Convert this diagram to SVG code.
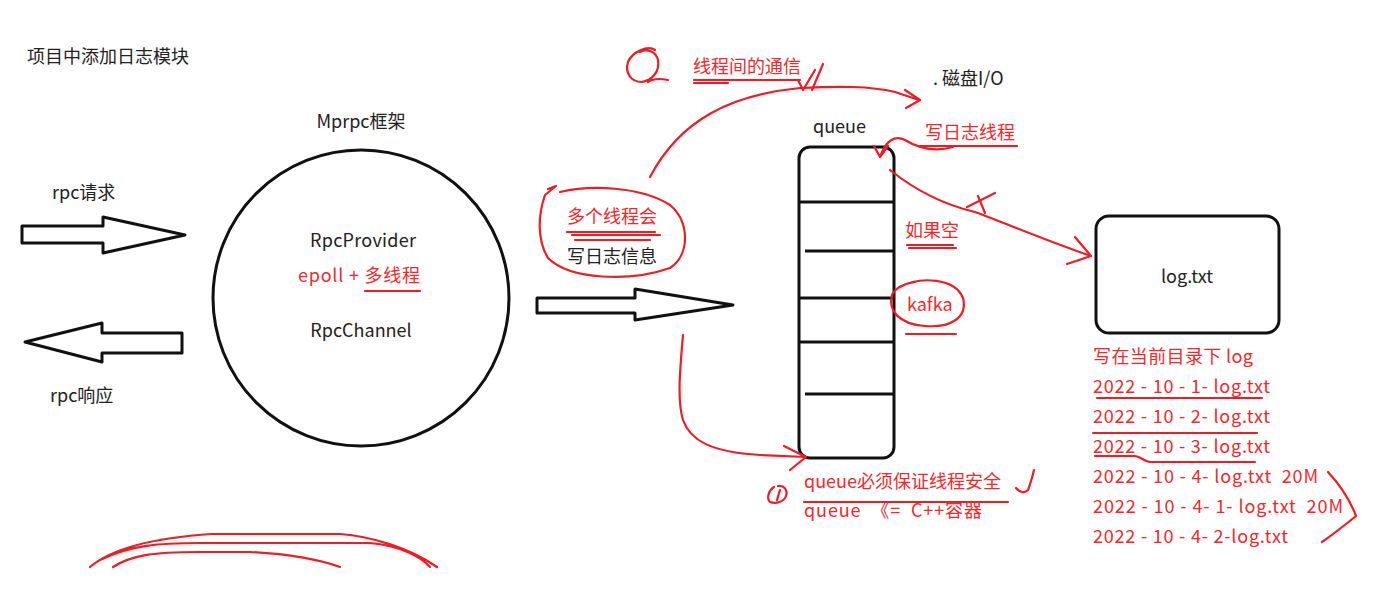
<svg xmlns="http://www.w3.org/2000/svg" width="1391" height="592" viewBox="0 0 1391 592">
<style>
text{font-family:"Noto Sans CJK SC","Noto Sans",sans-serif;font-size:18px;fill:#222;white-space:pre}
.r{fill:#ee2a2e}
.k{fill:none;stroke:#111;stroke-width:3;stroke-linejoin:round}
.h{fill:none;stroke:#ee1c24;stroke-width:2.2;stroke-linecap:round;stroke-linejoin:round}
.m{text-anchor:middle}
</style>
<rect width="1391" height="592" fill="#fff"/>

<g id="title"><text x="27" y="63">项目中添加日志模块</text></g>

<g id="rpc-request">
<path class="k" d="M22 226H103V217L185 235L103 253V243H22Z"/>
<text x="52" y="199">rpc请求</text>
</g>
<g id="rpc-response">
<path class="k" d="M182 333H102V323L25 342L102 362V353H182Z"/>
<text x="50" y="402">rpc响应</text>
</g>

<g id="mprpc">
<text x="361" y="128" class="m">Mprpc框架</text>
<circle class="k" cx="361" cy="298" r="148"/>
<text x="363" y="247" class="m" textLength="106" lengthAdjust="spacing">RpcProvider</text>
<text x="298" y="282" class="r" textLength="122" lengthAdjust="spacing">epoll + 多线程</text>
<path class="h" d="M365 291H420"/>
<text x="361" y="337" class="m">RpcChannel</text>
</g>

<g id="big-arrow"><path class="k" d="M537 298H635V289L733 305L635 320V313H537Z"/></g>

<g id="multi-thread">
<text x="567" y="223" class="r">多个线程会</text>
<path class="h" d="M567 232H655M572 235H660M575 240H650"/>
<text x="567" y="263">写日志信息</text>
<path class="h" d="M548 189L556 186L545 195C538 215 537 240 548 258C570 280 630 282 670 268C690 255 690 222 670 205C640 186 590 185 560 192"/>
</g>

<g id="queue">
<text x="813" y="133">queue</text>
<rect class="k" x="799" y="147" width="95" height="311" rx="11"/>
<path class="k" d="M799 202H894M805 251H894M799 298H894M799 342H894M805 394H894"/>
</g>

<g id="logfile">
<rect class="k" x="1096" y="216" width="183" height="117" rx="13"/>
<text x="1187" y="283" class="m">log.txt</text>
</g>

<g id="notes">
<text x="693" y="73" class="r">线程间的通信</text>
<path class="h" d="M694 80H800M694 83H728"/>
<text x="933" y="85">. 磁盘I/O</text>
<text x="925" y="139" class="r">写日志线程</text>
<path class="h" d="M920 146H1017"/>
<text x="905" y="237" class="r">如果空</text>
<path class="h" d="M907 245H953M909 248H956"/>
<text x="907" y="311" class="r">kafka</text>
<path class="h" d="M900 287C920 276 955 278 963 298C968 318 950 328 925 326C898 324 888 310 892 295C895 288 905 283 915 282"/>
<path class="h" d="M906 334H956"/>
<text x="804" y="488" class="r">queue必须保证线程安全</text>
<path class="h" d="M804 502H1008"/>
<text x="804" y="517" class="r" textLength="178" lengthAdjust="spacing">queue  《=  C++容器</text>
<text x="1093" y="363" class="r" textLength="160" lengthAdjust="spacing">写在当前目录下 log</text>
<text x="1093" y="393" class="r" textLength="177" lengthAdjust="spacing">2022 - 10 - 1- log.txt</text>
<path class="h" d="M1097 398H1262"/>
<text x="1093" y="423" class="r" textLength="177" lengthAdjust="spacing">2022 - 10 - 2- log.txt</text>
<path class="h" d="M1093 433H1257"/>
<text x="1093" y="453" class="r" textLength="177" lengthAdjust="spacing">2022 - 10 - 3- log.txt</text>
<path class="h" d="M1095 456H1135C1142 457 1143 461 1150 462H1255"/>
<text x="1093" y="483" class="r" textLength="225" lengthAdjust="spacing">2022 - 10 - 4- log.txt  20M</text>
<text x="1093" y="513" class="r" textLength="250" lengthAdjust="spacing">2022 - 10 - 4- 1- log.txt  20M</text>
<text x="1093" y="543" class="r" textLength="195" lengthAdjust="spacing">2022 - 10 - 4- 2-log.txt</text>
<path class="h" d="M1328 472C1340 485 1350 500 1356 516C1345 525 1332 535 1322 542"/>
<path class="h" d="M655 50C648 45 632 52 628 62C625 72 630 82 642 82C652 80 660 72 658 60C656 52 648 48 640 52M648 82C652 79 658 78 668 80"/>
<path class="h" d="M774 487C769 490 766 498 770 502C776 504 784 502 786 496C788 490 784 485 778 486M780 490L777 500"/>
<path class="h" d="M1016 488C1020 493 1025 493 1028 490C1030 485 1032 478 1034 470"/>
<path class="h" d="M798 80L803 90L815 70M812 90L823 64"/>
<path class="h" d="M967 207L995 193M978 196L985 213"/>
<path class="h" d="M90 567C110 550 150 538 212 534H340C370 536 410 548 437 567M100 560C130 545 160 543 200 543H370C400 546 420 556 430 567M113 567C130 556 150 552 200 552H250C290 554 320 560 340 567"/>
</g>

<g id="connectors">
<path class="h" d="M650 177C680 120 730 95 800 88C840 86 870 86 895 92L919 100M905 90L920 100L906 108"/>
<path class="h" d="M953 147C935 152 918 148 905 140C895 135 886 140 880 157M874 146L880 157L888 146"/>
<path class="h" d="M890 170C915 190 945 205 975 212C1010 225 1045 240 1091 256M1075 237L1091 256L1067 264"/>
<path class="h" d="M683 335C680 370 677 400 683 420C690 440 710 452 760 455L806 457M784 446L806 457L790 470"/>
</g>
</svg>
